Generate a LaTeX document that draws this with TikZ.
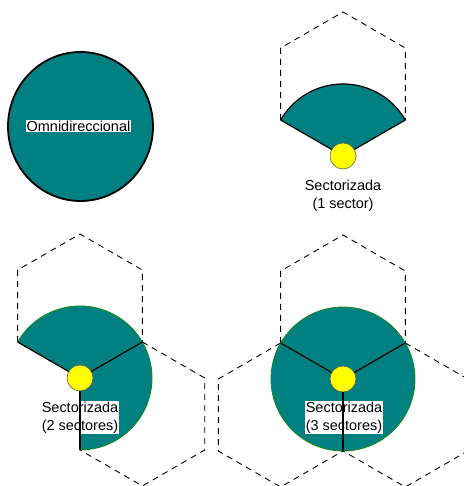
\documentclass[tikz,border=0pt]{standalone}
\usepackage{fontspec}
\setmainfont{Liberation Sans}
\usetikzlibrary{shapes.geometric}
\definecolor{tealfill}{RGB}{0,128,128}
\definecolor{arcgreen}{RGB}{20,140,20}
\definecolor{antyellow}{RGB}{255,255,0}
\tikzset{
  hexline/.style={draw=black,line width=0.9bp,dash pattern=on 6bp off 5bp},
  sectfill/.style={fill=tealfill},
  radial/.style={draw=black,line width=1.2bp},
  antenna/.style={circle,fill=antyellow,draw=black!70!yellow,line width=0.6bp,minimum size=26bp,inner sep=0pt},
  lbl/.style={font=\fontsize{14.5}{18.5}\selectfont,fill=white,inner sep=0.6bp,align=center,text=black},
}
\begin{document}
\begin{tikzpicture}[x=1bp,y=1bp]
\useasboundingbox (0,0) rectangle (464,486);
\clip (0,0) rectangle (464,486);
% ---------- Omnidirectional ----------
\node (omni) [ellipse,fill=tealfill,draw=black,line width=1.8bp,minimum width=145bp,minimum height=149bp,inner sep=0pt] at (80.5,359.5) {};
\node (omnitxt) [lbl] at (78.5,360) {Omnidireccional};
% ---------- 1 sector ----------
\coordinate (A1) at (343,330);
\coordinate (h1top) at (343,474);
\coordinate (h1ul) at (280.65,438);
\coordinate (h1ur) at (405.35,438);
\coordinate (h1ll) at (280.65,366);
\coordinate (h1lr) at (405.35,366);
\draw[hexline] (h1ll) -- (h1ul) -- (h1top) -- (h1ur) -- (h1lr);
\filldraw[sectfill,draw=black,line width=1.2bp] (A1) -- (h1lr) arc[start angle=30,end angle=150,radius=72] -- cycle;
\node (ant1) [antenna] at (A1) {};
\node (t1) [lbl,fill=none] at (343,290) {Sectorizada\\(1 sector)};
% ---------- 2 sectors ----------
\coordinate (A2) at (80,108);
\coordinate (p2top) at (80,252);
\coordinate (p2ul) at (17.65,216);
\coordinate (p2ur) at (142.35,216);
\coordinate (p2ll) at (17.65,144);
\coordinate (p2lr) at (142.35,144);
\coordinate (q2r1) at (204.7,108);
\coordinate (q2r2) at (204.7,36);
\coordinate (q2b) at (142.35,0);
\coordinate (q2l) at (80,36);
\draw[hexline] (p2ll) -- (p2ul) -- (p2top) -- (p2ur) -- (p2lr);
\draw[hexline] (p2lr) -- (q2r1) -- (q2r2) -- (q2b) -- (q2l);
\filldraw[sectfill,draw=arcgreen,line width=0.8bp] (A2) -- (p2ll) arc[start angle=150,end angle=-90,radius=72] -- cycle;
\node (t2) [lbl] at (80,68.5) {Sectorizada\\(2 sectores)};
\draw[radial] (A2) -- (p2ll);
\draw[radial] (A2) -- (p2lr);
\draw[radial] (A2) -- (q2l);
\node (ant2) [antenna] at (A2) {};
% ---------- 3 sectors ----------
\coordinate (A3) at (343,107);
\coordinate (p3top) at (343,251);
\coordinate (p3ul) at (280.65,215);
\coordinate (p3ur) at (405.35,215);
\coordinate (p3ll) at (280.65,143);
\coordinate (p3lr) at (405.35,143);
\coordinate (l3a) at (218.3,107);
\coordinate (l3b) at (218.3,35);
\coordinate (l3c) at (280.65,-1);
\coordinate (m3) at (343,35);
\coordinate (r3a) at (467.7,107);
\coordinate (r3b) at (467.7,35);
\coordinate (r3c) at (405.35,-1);
\draw[hexline] (p3ll) -- (p3ul) -- (p3top) -- (p3ur) -- (p3lr);
\draw[hexline] (p3ll) -- (l3a) -- (l3b) -- (l3c) -- (m3);
\draw[hexline] (p3lr) -- (r3a) -- (r3b) -- (r3c) -- (m3);
\filldraw[sectfill,draw=arcgreen,line width=0.8bp] (A3) circle[radius=72];
\node (t3) [lbl] at (344,68.5) {Sectorizada\\(3 sectores)};
\draw[radial] (A3) -- (p3ll);
\draw[radial] (A3) -- (p3lr);
\draw[radial] (A3) -- (m3);
\node (ant3) [antenna] at (A3) {};
\end{tikzpicture}
\end{document}
